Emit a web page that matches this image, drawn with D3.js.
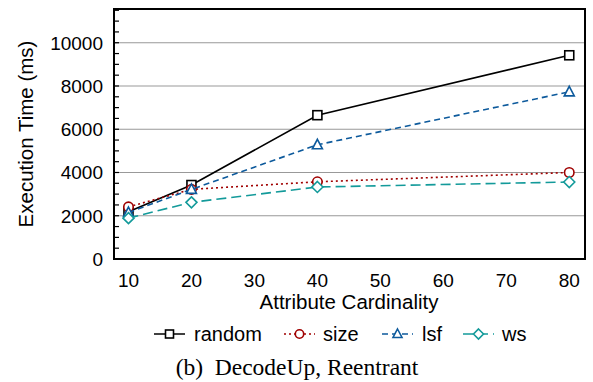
<!DOCTYPE html>
<html>
<head>
<meta charset="utf-8">
<script src="https://cdn.jsdelivr.net/npm/d3@7"></script>
<style>
  body { margin: 0; background: #fff; }
  text { font-family: "Liberation Sans", Arial, sans-serif; }
</style>
</head>
<body>
<svg id="chart" width="593" height="382"></svg>
<script>
var cardinality = [10, 20, 40, 80];
var randomTimes = [2180, 3420, 6650, 9420];
var sizeTimes   = [2410, 3220, 3570, 4000];
var lsfTimes    = [2150, 3220, 5280, 7730];
var wsTimes     = [1890, 2620, 3330, 3560];
var yTicks = [0, 2000, 4000, 6000, 8000, 10000];
var xTicks = [10, 20, 30, 40, 50, 60, 70, 80];

var series = [
  {name: "random", values: randomTimes, color: "#000000", dash: null,  marker: "square"},
  {name: "size",   values: sizeTimes,   color: "#a00000", dash: "2,3", marker: "circle"},
  {name: "lsf",    values: lsfTimes,    color: "#0d5a9c", dash: "6,4", marker: "triangle"},
  {name: "ws",     values: wsTimes,     color: "#139a9a", dash: "10,5", marker: "diamond"}
];

var svg = d3.select("#chart");
var plotLeft = 114, plotRight = 585, plotTop = 9, plotBottom = 259;

var xScale = d3.scaleLinear().domain([7.7, 82.5]).range([plotLeft, plotRight]);
var yScale = d3.scaleLinear().domain([0, 11560]).range([plotBottom, plotTop]);

// gridlines
svg.selectAll("line.grid")
  .data(yTicks.filter(function(d){ return d > 0; }))
  .enter().append("line")
  .attr("x1", plotLeft).attr("x2", plotRight)
  .attr("y1", function(d){ return yScale(d); })
  .attr("y2", function(d){ return yScale(d); })
  .attr("stroke", "#999").attr("stroke-width", 1.2);

// minor ticks on left, inside
var minor = d3.range(500, 11560, 500);
svg.selectAll("line.minor")
  .data(minor)
  .enter().append("line")
  .attr("x1", plotLeft).attr("x2", plotLeft + 5)
  .attr("y1", function(d){ return yScale(d); })
  .attr("y2", function(d){ return yScale(d); })
  .attr("stroke", "#000").attr("stroke-width", 1.2);

// y tick labels
svg.selectAll("text.ytick")
  .data(yTicks)
  .enter().append("text")
  .attr("x", plotLeft - 11)
  .attr("y", function(d){ return yScale(d); })
  .attr("dy", "0.36em")
  .attr("text-anchor", "end")
  .attr("font-size", 19)
  .text(function(d){ return d; });

// x tick labels
svg.selectAll("text.xtick")
  .data(xTicks)
  .enter().append("text")
  .attr("x", function(d){ return xScale(d); })
  .attr("y", 287)
  .attr("text-anchor", "middle")
  .attr("font-size", 19)
  .text(function(d){ return d; });

svg.append("text")
  .attr("x", 349).attr("y", 309)
  .attr("text-anchor", "middle")
  .attr("font-size", 20.5)
  .text("Attribute Cardinality");

svg.append("text")
  .attr("transform", "translate(33,134) rotate(-90)")
  .attr("text-anchor", "middle")
  .attr("font-size", 20.5)
  .text("Execution Time (ms)");

var line = d3.line()
  .x(function(d){ return xScale(d[0]); })
  .y(function(d){ return yScale(d[1]); });

function drawMarker(g, type, color, x, y, s) {
  if (type == "square") {
    g.append("rect").attr("x", x - s).attr("y", y - s).attr("width", 2*s).attr("height", 2*s)
      .attr("fill", "#fff").attr("stroke", color).attr("stroke-width", 1.6);
  } else if (type == "circle") {
    g.append("circle").attr("cx", x).attr("cy", y).attr("r", s * 1.05)
      .attr("fill", "#fff").attr("stroke", color).attr("stroke-width", 1.6);
  } else if (type == "triangle") {
    g.append("path")
      .attr("d", "M" + x + "," + (y - s - 1) + "L" + (x + s + 0.5) + "," + (y + s - 0.5) + "L" + (x - s - 0.5) + "," + (y + s - 0.5) + "Z")
      .attr("fill", "#fff").attr("stroke", color).attr("stroke-width", 1.6);
  } else {
    g.append("path")
      .attr("d", "M" + x + "," + (y - s - 1) + "L" + (x + s + 1) + "," + y + "L" + x + "," + (y + s + 1) + "L" + (x - s - 1) + "," + y + "Z")
      .attr("fill", "#fff").attr("stroke", color).attr("stroke-width", 1.6);
  }
}

series.forEach(function(s) {
  var pts = cardinality.map(function(c, i){ return [c, s.values[i]]; });
  var g = svg.append("g");
  g.append("path")
    .attr("d", line(pts))
    .attr("fill", "none")
    .attr("stroke", s.color)
    .attr("stroke-width", 1.6)
    .attr("stroke-dasharray", s.dash);
  pts.forEach(function(p) {
    drawMarker(g, s.marker, s.color, xScale(p[0]), yScale(p[1]), 4.5);
  });
});

// frame
svg.append("rect")
  .attr("x", plotLeft).attr("y", plotTop)
  .attr("width", plotRight - plotLeft).attr("height", plotBottom - plotTop)
  .attr("fill", "none").attr("stroke", "#000").attr("stroke-width", 2);

// legend
var legendX = [154, 284, 382, 463];
var legendLabelX = [194, 323, 422, 502];
series.forEach(function(s, i) {
  var g = svg.append("g");
  g.append("line")
    .attr("x1", legendX[i]).attr("x2", legendX[i] + 31)
    .attr("y1", 334).attr("y2", 334)
    .attr("stroke", s.color).attr("stroke-width", 1.5)
    .attr("stroke-dasharray", s.dash);
  drawMarker(g, s.marker, s.color, legendX[i] + 15.5, 334, 4);
  g.append("text")
    .attr("x", legendLabelX[i]).attr("y", 341)
    .attr("font-size", 20)
    .text(s.name);
});

svg.append("text")
  .attr("x", 297).attr("y", 375)
  .attr("text-anchor", "middle")
  .attr("font-size", 23.5)
  .style("font-family", "'Liberation Serif', 'Times New Roman', serif")
  .text("(b)\u2002DecodeUp, Reentrant");
</script>
</body>
</html>
